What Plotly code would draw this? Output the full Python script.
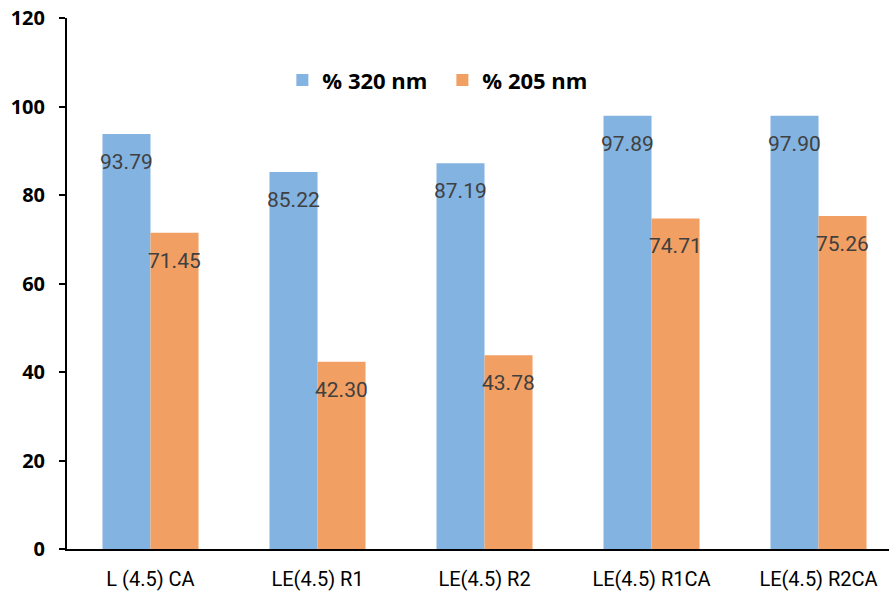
import plotly.graph_objects as go

categories = ["L (4.5) CA", "LE(4.5) R1", "LE(4.5) R2", "LE(4.5) R1CA", "LE(4.5) R2CA"]
pct_320 = [93.79, 85.22, 87.19, 97.89, 97.90]
pct_205 = [71.45, 42.30, 43.78, 74.71, 75.26]
y_ticks = [0, 20, 40, 60, 80, 100, 120]

BLUE = "#83B3E0"
ORANGE = "#F29F63"
FONT = "Roboto, sans-serif"

x_idx = list(range(len(categories)))

fig = go.Figure()
fig.add_bar(x=x_idx, y=pct_320, name="% 320 nm", marker_color=BLUE, marker_line_width=0)
fig.add_bar(x=x_idx, y=pct_205, name="% 205 nm", marker_color=ORANGE, marker_line_width=0)

# value labels just below the top of each bar
half = 0.1437
for i in x_idx:
    for val, off in ((pct_320[i], -half), (pct_205[i], half)):
        fig.add_annotation(
            x=i + off, y=val, xref="x", yref="y",
            text=f"{val:.2f}", showarrow=False, yshift=-28,
            font=dict(family=FONT, size=21, color="#404040"),
        )

fig.update_layout(
    width=889, height=593,
    margin=dict(l=67, r=0, t=18, b=44),
    plot_bgcolor="white", paper_bgcolor="white",
    barmode="group", bargap=0.425, bargroupgap=0,
    showlegend=True,
    legend=dict(
        orientation="h", x=0.262, y=0.883, xanchor="left", yanchor="middle",
        font=dict(family="Open Sans, sans-serif", size=22, color="black", weight="bold"),
        bgcolor="rgba(0,0,0,0)", itemwidth=30, traceorder="normal",
        entrywidth=115, entrywidthmode="pixels",
    ),
    xaxis=dict(
        tickmode="array", tickvals=x_idx, ticktext=categories,
        range=[-0.5, 4.422], showline=True, linecolor="black", linewidth=2,
        ticks="outside", ticklen=11, tickcolor="rgba(0,0,0,0)",
        showgrid=False, zeroline=False,
        tickfont=dict(family=FONT, size=20, color="black"),
    ),
    yaxis=dict(
        range=[0, 120], tickvals=y_ticks, showline=True, linecolor="black", linewidth=2,
        ticks="outside", ticklen=6, tickcolor="black", tickwidth=1.5,
        ticklabelstandoff=10,
        showgrid=False, zeroline=False,
        tickfont=dict(family="Open Sans, sans-serif", size=20, color="black", weight="bold"),
    ),
)

fig.write_html("out.html")
